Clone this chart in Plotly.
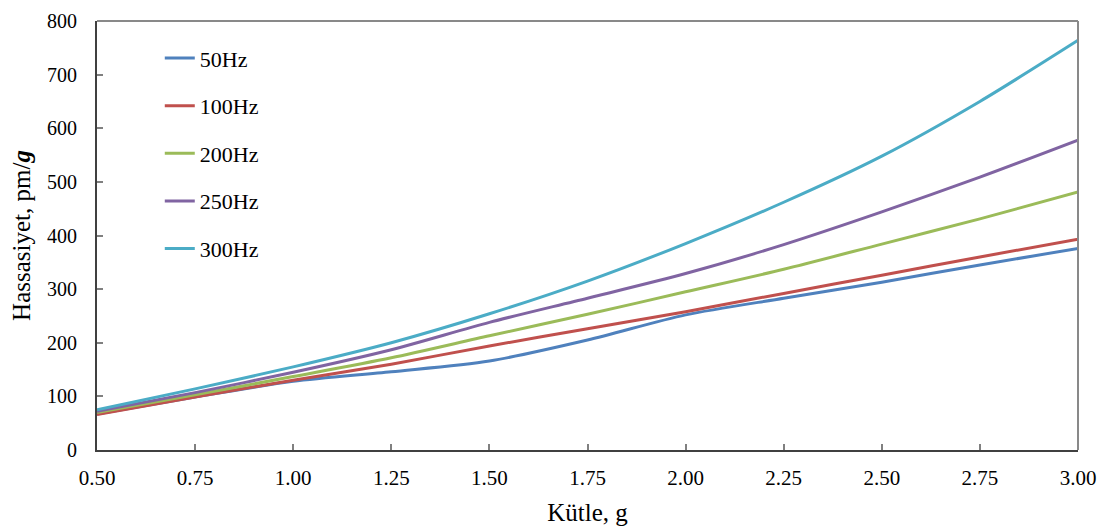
import plotly.graph_objects as go

mass = [0.50, 0.75, 1.00, 1.25, 1.50, 1.75, 2.00, 2.25, 2.50, 2.75, 3.00]
hz50 = [67, 99, 128, 146, 166, 205, 252, 283, 313, 345, 376]
hz100 = [66, 99, 130, 160, 194, 226, 258, 292, 326, 360, 393]
hz200 = [70, 103, 137, 172, 213, 253, 295, 337, 384, 431, 481]
hz250 = [72, 107, 145, 187, 238, 283, 329, 383, 444, 509, 578]
hz300 = [75, 114, 155, 200, 254, 315, 385, 462, 548, 650, 764]

names = ["50Hz", "100Hz", "200Hz", "250Hz", "300Hz"]
series = [hz50, hz100, hz200, hz250, hz300]
colors = ["#4F81BD", "#C0504D", "#9BBB59", "#8064A2", "#4BACC6"]
y_ticks = [0, 100, 200, 300, 400, 500, 600, 700, 800]

font_family = "Liberation Serif, Times New Roman, serif"

fig = go.Figure()
for i, (n, s, c) in enumerate(zip(names, series, colors)):
    fig.add_trace(go.Scatter(
        x=mass, y=s, name=n, mode="lines",
        line=dict(color=c, width=3, shape="spline", smoothing=0.8),
        legendgroup=n,
    ))

fig.update_layout(
    width=1110, height=530,
    margin=dict(l=89, r=40, t=13, b=88, autoexpand=False),
    paper_bgcolor="white", plot_bgcolor="white",
    font=dict(family=font_family, size=21, color="#000000"),
    showlegend=True,
    legend=dict(
        x=0.064, y=0.962, xanchor="left", yanchor="top",
        font=dict(family=font_family, size=22),
        tracegroupgap=16, bgcolor="rgba(0,0,0,0)",
    ),
    xaxis=dict(
        range=[0.5, 3.0], dtick=0.25, tick0=0.5, tickformat=".2f",
        showgrid=False, zeroline=False, automargin=False,
        showline=True, linecolor="#404040", linewidth=2,
        ticks="inside", ticklen=6, tickwidth=2, tickcolor="#808080",
        ticklabelstandoff=8, ticklabeloverflow="allow",
        tickfont=dict(size=21),
        title=dict(text="Kütle, g", font=dict(size=25), standoff=14),
    ),
    yaxis=dict(
        range=[0, 800], tickmode="array", tickvals=y_ticks,
        showgrid=False, zeroline=False, automargin=False,
        showline=True, linecolor="#404040", linewidth=2,
        ticks="inside", ticklen=6, tickwidth=2, tickcolor="#808080",
        ticklabelstandoff=14, ticklabeloverflow="allow",
        tickfont=dict(size=20),
        title=dict(text="Hassasiyet, pm/<b><i>g</i></b>", font=dict(size=25), standoff=10),
    ),
)

# gray top and right frame edges
fig.add_shape(type="line", xref="x domain", yref="y domain", x0=0, x1=1, y0=1, y1=1,
              line=dict(color="#898989", width=2))
fig.add_shape(type="line", xref="x domain", yref="y domain", x0=1, x1=1, y0=0, y1=1,
              line=dict(color="#898989", width=2))

fig.write_html("out.html")
